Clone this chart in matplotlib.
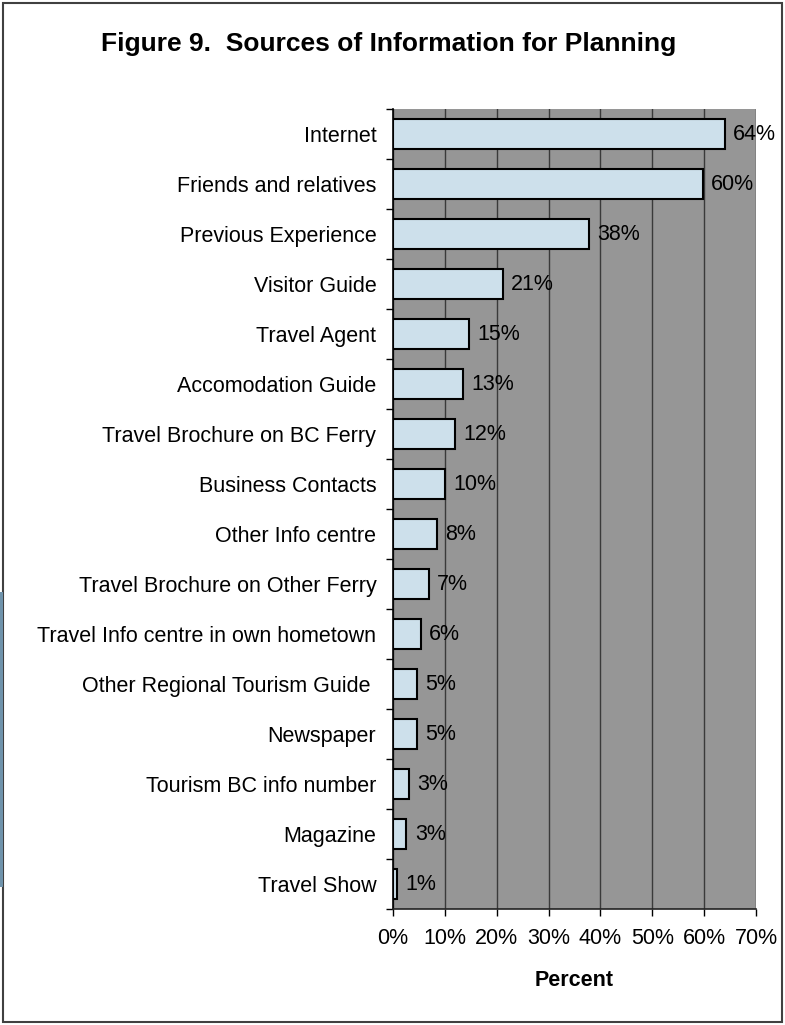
import numpy as np
import matplotlib
matplotlib.use('Agg')
import matplotlib.pyplot as plt
import matplotlib.patches as mpatches

plt.rcParams['font.family'] = ['Liberation Sans', 'DejaVu Sans']

sources = ['Internet', 'Friends and relatives', 'Previous Experience', 'Visitor Guide',
           'Travel Agent', 'Accomodation Guide', 'Travel Brochure on BC Ferry',
           'Business Contacts', 'Other Info centre', 'Travel Brochure on Other Ferry',
           'Travel Info centre in own hometown', 'Other Regional Tourism Guide ',
           'Newspaper', 'Tourism BC info number', 'Magazine', 'Travel Show']
values = [64.0, 59.7, 37.8, 21.2, 14.6, 13.5, 11.9, 10.0, 8.5, 6.9, 5.4, 4.6, 4.6, 3.1, 2.6, 0.8]
value_labels = ['64%', '60%', '38%', '21%', '15%', '13%', '12%', '10%', '8%', '7%',
                '6%', '5%', '5%', '3%', '3%', '1%']
xticks = [0, 10, 20, 30, 40, 50, 60, 70]
xtick_labels = ['0%', '10%', '20%', '30%', '40%', '50%', '60%', '70%']

W, H = 785, 1025
fig = plt.figure(figsize=(W/100, H/100), dpi=100)
ax = fig.add_axes([393/W, 1-909/H, 363/W, 800/H])
ax.set_facecolor('#969696')

pos = np.arange(len(sources))
ax.barh(pos, values, height=0.6, color='#CDE0EB', edgecolor='black', linewidth=1.5, zorder=3)
for p, v, t in zip(pos, values, value_labels):
    ax.annotate(t, (v, p), xytext=(6, 0), textcoords='offset points',
                va='center', ha='left', fontsize=15.5, zorder=4)

ax.set_xlim(0, 70)
ax.set_ylim(len(sources)-0.5, -0.5)
ax.set_xticks(xticks)
ax.set_xticklabels(xtick_labels, fontsize=15.5)
ax.set_yticks(pos)
ax.set_yticklabels(sources, fontsize=15.5)
ax.set_yticks(np.arange(len(sources)+1)-0.5, minor=True)
ax.tick_params(axis='y', which='major', length=0, pad=12)
ax.tick_params(axis='y', which='minor', length=5, width=1, color='black')
ax.tick_params(axis='x', length=5, width=1, color='black', pad=9)
ax.xaxis.grid(True, color='#3a3a3a', linewidth=1)
ax.set_axisbelow(True)
for s in ['top', 'right']:
    ax.spines[s].set_visible(False)
ax.spines['left'].set_color('black')
ax.spines['bottom'].set_color('#222222')
ax.spines['left'].set_linewidth(1.2)
ax.spines['bottom'].set_linewidth(1.2)

fig.text(389/W, 1-44/H, 'Figure 9.  Sources of Information for Planning',
         ha='center', va='center', fontsize=19, fontweight='bold')
fig.text(574.5/W, 1-980/H, 'Percent', ha='center', va='center', fontsize=15.5, fontweight='bold')

# outer frame and the blue strip on the left edge
fig.patches.append(mpatches.Rectangle((3/W, 3/H), 779/W, 1019/H, transform=fig.transFigure,
                                      fill=False, edgecolor='#404040', linewidth=1.5))
fig.patches.append(mpatches.Rectangle((0, 1-887/H), 3/W, 295/H, transform=fig.transFigure,
                                      color='#6f93ab', linewidth=0))

fig.savefig('out.png', dpi=100)
